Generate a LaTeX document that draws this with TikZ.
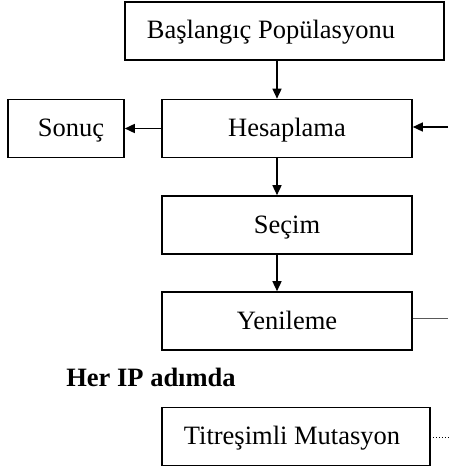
\documentclass[tikz,border=0pt]{standalone}
\usepackage{fontspec}
\setmainfont{Liberation Serif}
\usetikzlibrary{arrows.meta}
\begin{document}
\begin{tikzpicture}[x=1pt,y=-1pt,
  box/.style={draw,line width=1.6pt,inner sep=0pt,text height=18pt,text depth=2pt,font=\fontsize{26.5}{30}\selectfont},
  arr/.style={line width=1.5pt,-{Triangle[length=10pt,width=9pt]}}]
\useasboundingbox (0,0) rectangle (448,468);
\node[box,minimum width=319pt,minimum height=58pt] (bas) at (284.5,31) {Başlangıç Popülasyonu\kern27pt};
\node[box,minimum width=250pt,minimum height=58pt] (hes) at (287,128.5) {Hesaplama};
\node[box,minimum width=116pt,minimum height=58pt] (son) at (66,128.5) {\kern10pt Sonuç};
\node[box,minimum width=250pt,minimum height=58pt] (sec) at (287,225) {Seçim};
\node[box,minimum width=250pt,minimum height=58pt] (yen) at (287,321) {Yenileme};
\node[font=\fontsize{26.5}{30}\selectfont\bfseries] (her) at (151,377) {Her IP adımda};
\node[box,minimum width=268pt,minimum height=58pt] (tit) at (296,436.5) {Titreşimli Mutasyon\kern8pt};
\coordinate (ax) at (277,0);
\coordinate (rin) at (448,127);
\coordinate (rout) at (448,318);
\coordinate (dend) at (448,437);
\draw[arr] (bas.south -| ax) -- (hes.north -| ax);
\draw[arr] (hes.south -| ax) -- (sec.north -| ax);
\draw[arr] (sec.south -| ax) -- (yen.north -| ax);
\draw[arr] (hes.west) -- (son.east);
\draw[arr] (rin) -- (hes.east |- rin);
\draw[line width=1pt,gray!70!black] (yen.east |- rout) -- (rout);
\draw[line width=1pt,dotted] ([xshift=2pt]tit.east |- dend) -- (dend);
\end{tikzpicture}
\end{document}
